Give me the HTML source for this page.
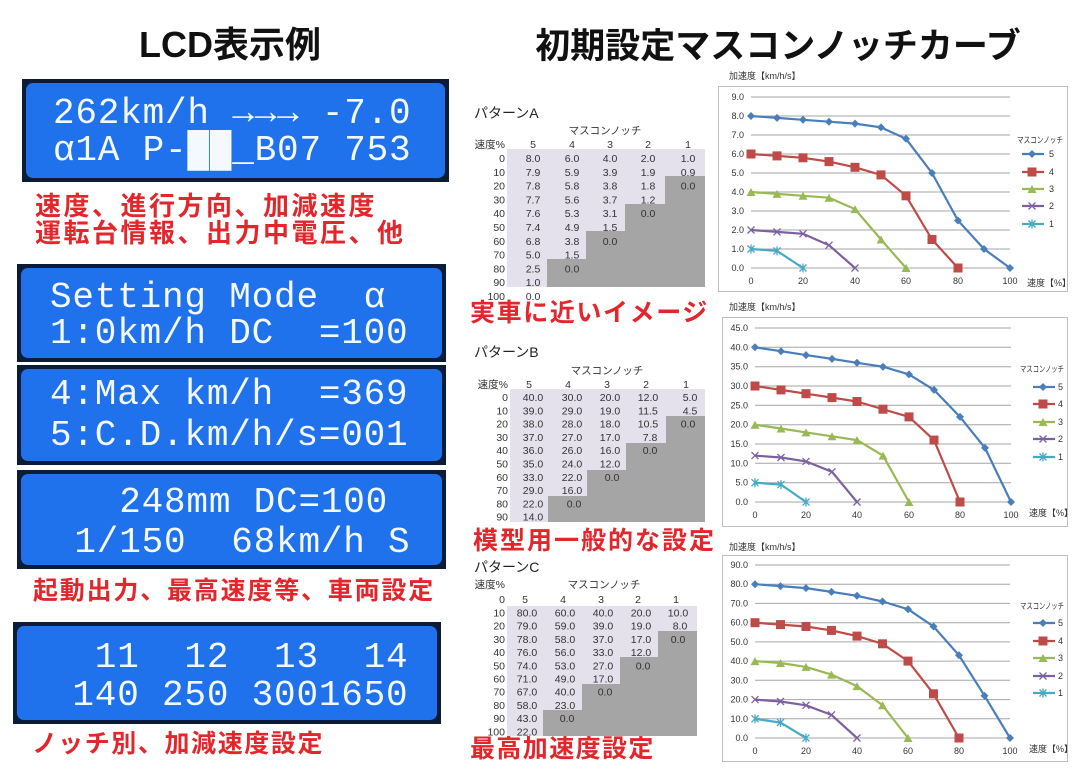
<!DOCTYPE html>
<html><head><meta charset="utf-8"><style>
html,body{margin:0;padding:0;background:#fff;}
svg{display:block;}
.t{font-family:"Liberation Sans","Noto Sans CJK JP",sans-serif;}
.lcd{font-family:"Liberation Mono","DejaVu Sans Mono",monospace;fill:#f4f8ff;font-size:36px;letter-spacing:0.8px;}
.red{font-family:"Liberation Sans","Noto Sans CJK JP",sans-serif;fill:#e3262b;font-weight:bold;}
.ax{font-family:"Liberation Sans","Noto Sans CJK JP",sans-serif;font-size:9px;fill:#333;}
.lt{font-family:"Liberation Sans","Noto Sans CJK JP",sans-serif;font-size:8.5px;fill:#333;}
.tb{font-family:"Liberation Sans","Noto Sans CJK JP",sans-serif;font-size:10.5px;fill:#333;}
.g{stroke:#a6a6a6;stroke-width:1;}
</style></head><body>
<svg width="1080" height="772" viewBox="0 0 1080 772" xmlns="http://www.w3.org/2000/svg">
<defs>
<marker id="mD" markerUnits="userSpaceOnUse" markerWidth="10" markerHeight="10" refX="5" refY="5"><path d="M5 1L9 5L5 9L1 5Z" fill="#4a7ebb"/></marker>
<marker id="mS" markerUnits="userSpaceOnUse" markerWidth="12" markerHeight="12" refX="6" refY="6"><rect x="1.5" y="1.5" width="9" height="9" fill="#be4b48"/></marker>
<marker id="mT" markerUnits="userSpaceOnUse" markerWidth="10" markerHeight="10" refX="5" refY="5"><path d="M5 1L9.5 9H0.5Z" fill="#98b954"/></marker>
<marker id="mX" markerUnits="userSpaceOnUse" markerWidth="10" markerHeight="10" refX="5" refY="5"><path d="M1.5 1.5L8.5 8.5M8.5 1.5L1.5 8.5" stroke="#7d60a0" stroke-width="1.3"/></marker>
<marker id="mA" markerUnits="userSpaceOnUse" markerWidth="10" markerHeight="10" refX="5" refY="5"><path d="M1.5 1.5L8.5 8.5M8.5 1.5L1.5 8.5M5 0.5V9.5" stroke="#46aac5" stroke-width="1.3"/></marker>
</defs>

<text class="t" x="230" y="57" font-size="36" font-weight="bold" text-anchor="middle" fill="#111">LCD表示例</text>
<text class="t" x="778" y="58" font-size="35" font-weight="bold" text-anchor="middle" fill="#111">初期設定マスコンノッチカーブ</text>

<rect x="22" y="79" width="427" height="103" fill="#0b1c38"/>
<rect x="26" y="83" width="419" height="95" rx="7" fill="#1f72ec"/>
<text class="lcd" x="53" y="123" xml:space="preserve">262km/h →→→ -7.0</text>
<text class="lcd" x="53" y="160" xml:space="preserve">α1A P-██_B07 753</text>

<rect x="17" y="264" width="429" height="98" fill="#0b1c38"/>
<rect x="21" y="268" width="421" height="90" rx="7" fill="#1f72ec"/>
<text class="lcd" x="50" y="307" xml:space="preserve">Setting Mode  α</text>
<text class="lcd" x="50" y="343" xml:space="preserve">1:0km/h DC  =100</text>

<rect x="17" y="365" width="429" height="100" fill="#0b1c38"/>
<rect x="21" y="369" width="421" height="92" rx="7" fill="#1f72ec"/>
<text class="lcd" x="50" y="404" xml:space="preserve">4:Max km/h  =369</text>
<text class="lcd" x="50" y="445" xml:space="preserve">5:C.D.km/h/s=001</text>

<rect x="17" y="470" width="429" height="99" fill="#0b1c38"/>
<rect x="21" y="474" width="421" height="91" rx="7" fill="#1f72ec"/>
<text class="lcd" x="52" y="512" xml:space="preserve">   248mm DC=100</text>
<text class="lcd" x="52" y="552" xml:space="preserve"> 1/150  68km/h S</text>

<rect x="13" y="622" width="428" height="102" fill="#0b1c38"/>
<rect x="17" y="626" width="420" height="94" rx="7" fill="#1f72ec"/>
<text class="lcd" x="50" y="667" xml:space="preserve">  11  12  13  14</text>
<text class="lcd" x="50" y="705" xml:space="preserve"> 140 250 3001650</text>

<text class="red" x="35" y="215" font-size="26" letter-spacing="2.5">速度、進行方向、加減速度</text>
<text class="red" x="35" y="242" font-size="26" letter-spacing="2.5">運転台情報、出力中電圧、他</text>
<text class="red" x="33" y="599" font-size="25" letter-spacing="1.8">起動出力、最高速度等、車両設定</text>
<text class="red" x="32" y="752" font-size="25" letter-spacing="1.6">ノッチ別、加減速度設定</text>
<text class="red" x="470" y="321" font-size="25" letter-spacing="1.6">実車に近いイメージ</text>
<text class="red" x="473" y="549" font-size="25" letter-spacing="2">模型用一般的な設定</text>
<text class="red" x="470" y="757" font-size="25" letter-spacing="1.4">最高加速度設定</text>

<!-- Table A -->
<text class="t" x="474" y="118" font-size="14" fill="#222">パターンA</text>
<text class="tb" x="605" y="134" text-anchor="middle">マスコンノッチ</text>
<rect x="507" y="149" width="198" height="138" fill="#e4e0ec"/>
<path d="M665 176H705V287H547V259H586V231H625V204H665Z" fill="#a5a5a5"/>
<g class="tb" text-anchor="end">
<text x="505" y="148">速度%</text>
<text x="505" y="162">0</text><text x="505" y="175.8">10</text><text x="505" y="189.6">20</text><text x="505" y="203.4">30</text><text x="505" y="217.2">40</text><text x="505" y="231">50</text><text x="505" y="244.8">60</text><text x="505" y="258.6">70</text><text x="505" y="272.4">80</text><text x="505" y="286.2">90</text><text x="505" y="300">100</text>
</g>
<g class="tb" text-anchor="middle">
<text x="533" y="148">5</text><text x="572" y="148">4</text><text x="610" y="148">3</text><text x="648" y="148">2</text><text x="688" y="148">1</text>
<text x="533" y="162">8.0</text><text x="572" y="162">6.0</text><text x="610" y="162">4.0</text><text x="648" y="162">2.0</text><text x="688" y="162">1.0</text>
<text x="533" y="175.8">7.9</text><text x="572" y="175.8">5.9</text><text x="610" y="175.8">3.9</text><text x="648" y="175.8">1.9</text><text x="688" y="175.8">0.9</text>
<text x="533" y="189.6">7.8</text><text x="572" y="189.6">5.8</text><text x="610" y="189.6">3.8</text><text x="648" y="189.6">1.8</text><text x="688" y="189.6">0.0</text>
<text x="533" y="203.4">7.7</text><text x="572" y="203.4">5.6</text><text x="610" y="203.4">3.7</text><text x="648" y="203.4">1.2</text>
<text x="533" y="217.2">7.6</text><text x="572" y="217.2">5.3</text><text x="610" y="217.2">3.1</text><text x="648" y="217.2">0.0</text>
<text x="533" y="231">7.4</text><text x="572" y="231">4.9</text><text x="610" y="231">1.5</text>
<text x="533" y="244.8">6.8</text><text x="572" y="244.8">3.8</text><text x="610" y="244.8">0.0</text>
<text x="533" y="258.6">5.0</text><text x="572" y="258.6">1.5</text>
<text x="533" y="272.4">2.5</text><text x="572" y="272.4">0.0</text>
<text x="533" y="286.2">1.0</text>
<text x="533" y="300">0.0</text>
</g>

<!-- Table B -->
<text class="t" x="474" y="357" font-size="14" fill="#222">パターンB</text>
<text class="tb" x="607" y="374" text-anchor="middle">マスコンノッチ</text>
<rect x="510" y="389" width="195" height="133" fill="#e4e0ec"/>
<path d="M666 416H705V522H548V496H587V470H626V443H666Z" fill="#a5a5a5"/>
<g class="tb" text-anchor="end">
<text x="508" y="388">速度%</text>
<text x="508" y="401">0</text><text x="508" y="414.3">10</text><text x="508" y="427.6">20</text><text x="508" y="440.9">30</text><text x="508" y="454.2">40</text><text x="508" y="467.5">50</text><text x="508" y="480.8">60</text><text x="508" y="494.1">70</text><text x="508" y="507.4">80</text><text x="508" y="520.7">90</text>
</g>
<g class="tb" text-anchor="middle">
<text x="529" y="388">5</text><text x="568" y="388">4</text><text x="607" y="388">3</text><text x="646" y="388">2</text><text x="686" y="388">1</text>
<text x="533" y="401">40.0</text><text x="572" y="401">30.0</text><text x="610" y="401">20.0</text><text x="648" y="401">12.0</text><text x="690" y="401">5.0</text>
<text x="533" y="414.3">39.0</text><text x="572" y="414.3">29.0</text><text x="610" y="414.3">19.0</text><text x="648" y="414.3">11.5</text><text x="690" y="414.3">4.5</text>
<text x="533" y="427.6">38.0</text><text x="572" y="427.6">28.0</text><text x="610" y="427.6">18.0</text><text x="648" y="427.6">10.5</text><text x="688" y="427.6">0.0</text>
<text x="533" y="440.9">37.0</text><text x="572" y="440.9">27.0</text><text x="610" y="440.9">17.0</text><text x="650" y="440.9">7.8</text>
<text x="533" y="454.2">36.0</text><text x="572" y="454.2">26.0</text><text x="610" y="454.2">16.0</text><text x="650" y="454.2">0.0</text>
<text x="533" y="467.5">35.0</text><text x="572" y="467.5">24.0</text><text x="610" y="467.5">12.0</text>
<text x="533" y="480.8">33.0</text><text x="572" y="480.8">22.0</text><text x="612" y="480.8">0.0</text>
<text x="533" y="494.1">29.0</text><text x="572" y="494.1">16.0</text>
<text x="533" y="507.4">22.0</text><text x="574" y="507.4">0.0</text>
<text x="533" y="520.7">14.0</text>
</g>

<!-- Table C -->
<text class="t" x="474" y="572" font-size="14" fill="#222">パターンC</text>
<text class="tb" x="604" y="588" text-anchor="middle">マスコンノッチ</text>
<rect x="507" y="606" width="190" height="130" fill="#e4e0ec"/>
<path d="M658 631H697V736H543V710H582V684H620V657H658Z" fill="#a5a5a5"/>
<g class="tb" text-anchor="end">
<text x="505" y="588">速度%</text>
<text x="505" y="603">0</text><text x="505" y="616.5">10</text><text x="505" y="629.7">20</text><text x="505" y="642.9">30</text><text x="505" y="656.1">40</text><text x="505" y="669.3">50</text><text x="505" y="682.5">60</text><text x="505" y="695.7">70</text><text x="505" y="708.9">80</text><text x="505" y="722.1">90</text><text x="505" y="735.3">100</text>
</g>
<g class="tb" text-anchor="middle">
<text x="525" y="603">5</text><text x="563" y="603">4</text><text x="601" y="603">3</text><text x="638" y="603">2</text><text x="676" y="603">1</text>
<text x="527" y="616.5">80.0</text><text x="565" y="616.5">60.0</text><text x="603" y="616.5">40.0</text><text x="641" y="616.5">20.0</text><text x="678" y="616.5">10.0</text>
<text x="527" y="629.7">79.0</text><text x="565" y="629.7">59.0</text><text x="603" y="629.7">39.0</text><text x="641" y="629.7">19.0</text><text x="680" y="629.7">8.0</text>
<text x="527" y="642.9">78.0</text><text x="565" y="642.9">58.0</text><text x="603" y="642.9">37.0</text><text x="641" y="642.9">17.0</text><text x="678" y="642.9">0.0</text>
<text x="527" y="656.1">76.0</text><text x="565" y="656.1">56.0</text><text x="603" y="656.1">33.0</text><text x="641" y="656.1">12.0</text>
<text x="527" y="669.3">74.0</text><text x="565" y="669.3">53.0</text><text x="603" y="669.3">27.0</text><text x="643" y="669.3">0.0</text>
<text x="527" y="682.5">71.0</text><text x="565" y="682.5">49.0</text><text x="603" y="682.5">17.0</text>
<text x="527" y="695.7">67.0</text><text x="565" y="695.7">40.0</text><text x="605" y="695.7">0.0</text>
<text x="527" y="708.9">58.0</text><text x="565" y="708.9">23.0</text>
<text x="527" y="722.1">43.0</text><text x="567" y="722.1">0.0</text>
<text x="527" y="735.3">22.0</text>
</g>

<!-- Chart A -->
<text class="ax" x="729" y="79" font-size="10">加速度【km/h/s】</text>
<rect x="718.5" y="86.5" width="349" height="205" fill="#fff" stroke="#bfbfbf"/>
<g class="g">
<line x1="751" x2="1010" y1="97" y2="97"/><line x1="751" x2="1010" y1="116" y2="116"/><line x1="751" x2="1010" y1="135" y2="135"/><line x1="751" x2="1010" y1="154" y2="154"/><line x1="751" x2="1010" y1="173" y2="173"/><line x1="751" x2="1010" y1="192" y2="192"/><line x1="751" x2="1010" y1="211" y2="211"/><line x1="751" x2="1010" y1="230" y2="230"/><line x1="751" x2="1010" y1="249" y2="249"/><line x1="751" x2="1010" y1="268" y2="268"/>
</g>
<g class="ax" text-anchor="end">
<text x="744" y="100">9.0</text><text x="744" y="119">8.0</text><text x="744" y="138">7.0</text><text x="744" y="157">6.0</text><text x="744" y="176">5.0</text><text x="744" y="195">4.0</text><text x="744" y="214">3.0</text><text x="744" y="233">2.0</text><text x="744" y="252">1.0</text><text x="744" y="271">0.0</text>
</g>
<g class="ax" text-anchor="middle">
<text x="751" y="284">0</text><text x="803" y="284">20</text><text x="855" y="284">40</text><text x="906" y="284">60</text><text x="958" y="284">80</text><text x="1010" y="284">100</text>
</g>
<text class="ax" x="1027" y="286" font-size="10">速度【%】</text>
<g fill="none" stroke-width="2.2" stroke-linejoin="round">
<polyline stroke="#4a7ebb" marker-start="url(#mD)" marker-mid="url(#mD)" marker-end="url(#mD)" points="751,116 777,117.9 803,119.8 829,121.7 855,123.6 881,127.4 906,138.8 932,173 958,220.5 984,249 1010,268"/>
<polyline stroke="#be4b48" marker-start="url(#mS)" marker-mid="url(#mS)" marker-end="url(#mS)" points="751,154 777,155.9 803,157.8 829,161.6 855,167.3 881,174.9 906,195.8 932,239.5 958,268"/>
<polyline stroke="#98b954" marker-start="url(#mT)" marker-mid="url(#mT)" marker-end="url(#mT)" points="751,192 777,193.9 803,195.8 829,197.7 855,209.1 881,239.5 906,268"/>
<polyline stroke="#7d60a0" marker-start="url(#mX)" marker-mid="url(#mX)" marker-end="url(#mX)" points="751,230 777,231.9 803,233.8 829,245.2 855,268"/>
<polyline stroke="#46aac5" marker-start="url(#mA)" marker-mid="url(#mA)" marker-end="url(#mA)" points="751,249 777,250.9 803,268"/>
</g>
<text class="lt" x="1017" y="143" textLength="46" lengthAdjust="spacingAndGlyphs">マスコンノッチ</text>
<g fill="none" stroke-width="2.2">
<polyline stroke="#4a7ebb" marker-mid="url(#mD)" points="1022,154 1032,154 1044,154"/>
<polyline stroke="#be4b48" marker-mid="url(#mS)" points="1022,172 1032,172 1044,172"/>
<polyline stroke="#98b954" marker-mid="url(#mT)" points="1022,189 1032,189 1044,189"/>
<polyline stroke="#7d60a0" marker-mid="url(#mX)" points="1022,206 1032,206 1044,206"/>
<polyline stroke="#46aac5" marker-mid="url(#mA)" points="1022,224 1032,224 1044,224"/>
</g>
<g class="ax"><text x="1049" y="157">5</text><text x="1049" y="175">4</text><text x="1049" y="192">3</text><text x="1049" y="209">2</text><text x="1049" y="227">1</text></g>

<!-- Chart B -->
<text class="ax" x="729" y="310" font-size="10">加速度【km/h/s】</text>
<rect x="722.5" y="317.5" width="345" height="209" fill="#fff" stroke="#bfbfbf"/>
<g class="g">
<line x1="755" x2="1011" y1="328" y2="328"/><line x1="755" x2="1011" y1="347.3" y2="347.3"/><line x1="755" x2="1011" y1="366.7" y2="366.7"/><line x1="755" x2="1011" y1="386" y2="386"/><line x1="755" x2="1011" y1="405.3" y2="405.3"/><line x1="755" x2="1011" y1="424.7" y2="424.7"/><line x1="755" x2="1011" y1="444" y2="444"/><line x1="755" x2="1011" y1="463.3" y2="463.3"/><line x1="755" x2="1011" y1="482.7" y2="482.7"/><line x1="755" x2="1011" y1="502" y2="502"/>
</g>
<g class="ax" text-anchor="end">
<text x="748" y="331">45.0</text><text x="748" y="350.3">40.0</text><text x="748" y="369.7">35.0</text><text x="748" y="389">30.0</text><text x="748" y="408.3">25.0</text><text x="748" y="427.7">20.0</text><text x="748" y="447">15.0</text><text x="748" y="466.3">10.0</text><text x="748" y="485.7">5.0</text><text x="748" y="505">0.0</text>
</g>
<g class="ax" text-anchor="middle">
<text x="755" y="518">0</text><text x="806" y="518">20</text><text x="857" y="518">40</text><text x="909" y="518">60</text><text x="960" y="518">80</text><text x="1011" y="518">100</text>
</g>
<text class="ax" x="1029" y="516" font-size="10">速度【%】</text>
<g fill="none" stroke-width="2.2" stroke-linejoin="round">
<polyline stroke="#4a7ebb" marker-start="url(#mD)" marker-mid="url(#mD)" marker-end="url(#mD)" points="755,347.3 781,351.2 806,355.1 832,358.9 857,362.8 883,366.7 909,374.4 934,389.9 960,416.9 985,447.9 1011,502"/>
<polyline stroke="#be4b48" marker-start="url(#mS)" marker-mid="url(#mS)" marker-end="url(#mS)" points="755,386 781,389.9 806,393.7 832,397.6 857,401.5 883,409.2 909,416.9 934,440.1 960,502"/>
<polyline stroke="#98b954" marker-start="url(#mT)" marker-mid="url(#mT)" marker-end="url(#mT)" points="755,424.7 781,428.5 806,432.4 832,436.3 857,440.1 883,455.6 909,502"/>
<polyline stroke="#7d60a0" marker-start="url(#mX)" marker-mid="url(#mX)" marker-end="url(#mX)" points="755,455.6 781,457.5 806,461.4 832,471.8 857,502"/>
<polyline stroke="#46aac5" marker-start="url(#mA)" marker-mid="url(#mA)" marker-end="url(#mA)" points="755,482.7 781,484.6 806,502"/>
</g>
<text class="lt" x="1020" y="372" textLength="44" lengthAdjust="spacingAndGlyphs">マスコンノッチ</text>
<g fill="none" stroke-width="2.2">
<polyline stroke="#4a7ebb" marker-mid="url(#mD)" points="1033,387 1043,387 1055,387"/>
<polyline stroke="#be4b48" marker-mid="url(#mS)" points="1033,404 1043,404 1055,404"/>
<polyline stroke="#98b954" marker-mid="url(#mT)" points="1033,422 1043,422 1055,422"/>
<polyline stroke="#7d60a0" marker-mid="url(#mX)" points="1033,439 1043,439 1055,439"/>
<polyline stroke="#46aac5" marker-mid="url(#mA)" points="1033,457 1043,457 1055,457"/>
</g>
<g class="ax"><text x="1058" y="390">5</text><text x="1058" y="407">4</text><text x="1058" y="425">3</text><text x="1058" y="442">2</text><text x="1058" y="460">1</text></g>

<!-- Chart C -->
<text class="ax" x="729" y="550" font-size="10">加速度【km/h/s】</text>
<rect x="722.5" y="555.5" width="345" height="206" fill="#fff" stroke="#bfbfbf"/>
<g class="g">
<line x1="755" x2="1010" y1="565" y2="565"/><line x1="755" x2="1010" y1="584.2" y2="584.2"/><line x1="755" x2="1010" y1="603.4" y2="603.4"/><line x1="755" x2="1010" y1="622.7" y2="622.7"/><line x1="755" x2="1010" y1="641.9" y2="641.9"/><line x1="755" x2="1010" y1="661.1" y2="661.1"/><line x1="755" x2="1010" y1="680.3" y2="680.3"/><line x1="755" x2="1010" y1="699.6" y2="699.6"/><line x1="755" x2="1010" y1="718.8" y2="718.8"/><line x1="755" x2="1010" y1="738" y2="738"/>
</g>
<g class="ax" text-anchor="end">
<text x="748" y="568">90.0</text><text x="748" y="587.2">80.0</text><text x="748" y="606.4">70.0</text><text x="748" y="625.7">60.0</text><text x="748" y="644.9">50.0</text><text x="748" y="664.1">40.0</text><text x="748" y="683.3">30.0</text><text x="748" y="702.6">20.0</text><text x="748" y="721.8">10.0</text><text x="748" y="741">0.0</text>
</g>
<g class="ax" text-anchor="middle">
<text x="755" y="754">0</text><text x="806" y="754">20</text><text x="857" y="754">40</text><text x="908" y="754">60</text><text x="959" y="754">80</text><text x="1010" y="754">100</text>
</g>
<text class="ax" x="1029" y="752" font-size="10">速度【%】</text>
<g fill="none" stroke-width="2.2" stroke-linejoin="round">
<polyline stroke="#4a7ebb" marker-start="url(#mD)" marker-mid="url(#mD)" marker-end="url(#mD)" points="755,584.2 780.5,586.1 806,588.1 831.5,591.9 857,595.8 882.5,601.5 908,609.2 933.5,626.5 959,655.3 984.5,695.7 1010,738"/>
<polyline stroke="#be4b48" marker-start="url(#mS)" marker-mid="url(#mS)" marker-end="url(#mS)" points="755,622.7 780.5,624.6 806,626.5 831.5,630.4 857,636.1 882.5,643.8 908,661.1 933.5,693.8 959,738"/>
<polyline stroke="#98b954" marker-start="url(#mT)" marker-mid="url(#mT)" marker-end="url(#mT)" points="755,661.1 780.5,663 806,666.9 831.5,674.6 857,686.1 882.5,705.3 908,738"/>
<polyline stroke="#7d60a0" marker-start="url(#mX)" marker-mid="url(#mX)" marker-end="url(#mX)" points="755,699.6 780.5,701.5 806,705.3 831.5,714.9 857,738"/>
<polyline stroke="#46aac5" marker-start="url(#mA)" marker-mid="url(#mA)" marker-end="url(#mA)" points="755,718.8 780.5,722.6 806,738"/>
</g>
<text class="lt" x="1020" y="609" textLength="44" lengthAdjust="spacingAndGlyphs">マスコンノッチ</text>
<g fill="none" stroke-width="2.2">
<polyline stroke="#4a7ebb" marker-mid="url(#mD)" points="1033,623 1043,623 1055,623"/>
<polyline stroke="#be4b48" marker-mid="url(#mS)" points="1033,641 1043,641 1055,641"/>
<polyline stroke="#98b954" marker-mid="url(#mT)" points="1033,658 1043,658 1055,658"/>
<polyline stroke="#7d60a0" marker-mid="url(#mX)" points="1033,676 1043,676 1055,676"/>
<polyline stroke="#46aac5" marker-mid="url(#mA)" points="1033,693 1043,693 1055,693"/>
</g>
<g class="ax"><text x="1058" y="626">5</text><text x="1058" y="644">4</text><text x="1058" y="661">3</text><text x="1058" y="679">2</text><text x="1058" y="696">1</text></g>
</svg>
</body></html>
